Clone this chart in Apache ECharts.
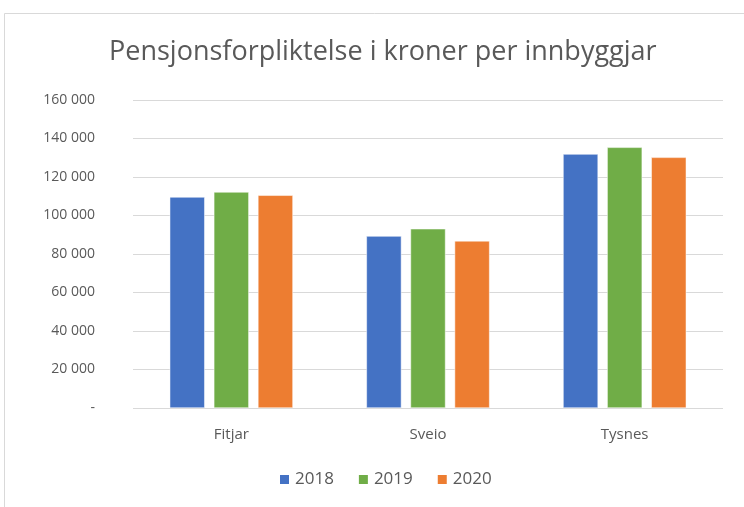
<!DOCTYPE html>
<html>
<head>
<meta charset="utf-8">
<script src="https://cdn.jsdelivr.net/npm/echarts@6/dist/echarts.min.js"></script>
<style>
  html, body { margin: 0; padding: 0; background: #fff; }
  #echarts { width: 744px; height: 507px; }
</style>
</head>
<body>
<div id="echarts"></div>
<script>
var categories = ['Fitjar', 'Sveio', 'Tysnes'];
var years = ['2018', '2019', '2020'];
var values2018 = [109600, 89300, 131900];
var values2019 = [112200, 93100, 135400];
var values2020 = [110500, 86800, 130200];
var colors = ['#4472c4', '#70ad47', '#ed7d31'];

var myChart = echarts.init(document.getElementById('echarts'));

function fmt(v) {
  if (v === 0) return '-';
  return String(v).replace(/\B(?=(\d{3})+(?!\d))/g, ' ');
}

var seriesData = [values2018, values2019, values2020];

option = {
  backgroundColor: '#fff',
  animation: false,
  color: colors,
  graphic: [{
    type: 'rect',
    shape: { x: 4.5, y: 13.5, width: 760, height: 520 },
    style: { fill: 'none', stroke: '#d9d9d9', lineWidth: 1 }
  }],
  title: {
    text: 'Pensjonsforpliktelse i kroner per innbyggjar',
    left: 104,
    top: 34,
    textStyle: {
      color: '#595959',
      fontFamily: 'Open Sans',
      fontSize: 27,
      fontWeight: 'normal'
    }
  },
  legend: {
    bottom: 14,
    left: 273,
    itemWidth: 11,
    itemHeight: 11,
    itemGap: 23,
    icon: 'rect',
    textStyle: { color: '#595959', fontSize: 17, fontFamily: 'Open Sans' },
    data: years
  },
  grid: { left: 133, right: 21, top: 100, bottom: 99 },
  xAxis: {
    type: 'category',
    data: categories,
    axisLine: { show: false },
    axisTick: { show: false },
    axisLabel: { color: '#595959', fontSize: 15, fontFamily: 'Open Sans', margin: 19 }
  },
  yAxis: {
    type: 'value',
    min: 0,
    max: 160000,
    interval: 20000,
    axisLine: { show: false },
    axisTick: { show: false },
    splitLine: { lineStyle: { color: '#d9d9d9', width: 1 } },
    axisLabel: {
      color: '#595959',
      fontSize: 14,
      fontFamily: 'Open Sans',
      margin: 38,
      formatter: fmt
    }
  },
  series: years.map(function (y, i) {
    return {
      name: y,
      type: 'bar',
      data: seriesData[i],
      barWidth: 35,
      barGap: '26%',
      itemStyle: { color: colors[i], borderColor: '#fff', borderWidth: 0.5 }
    };
  })
};

myChart.setOption(option);
</script>
</body>
</html>
